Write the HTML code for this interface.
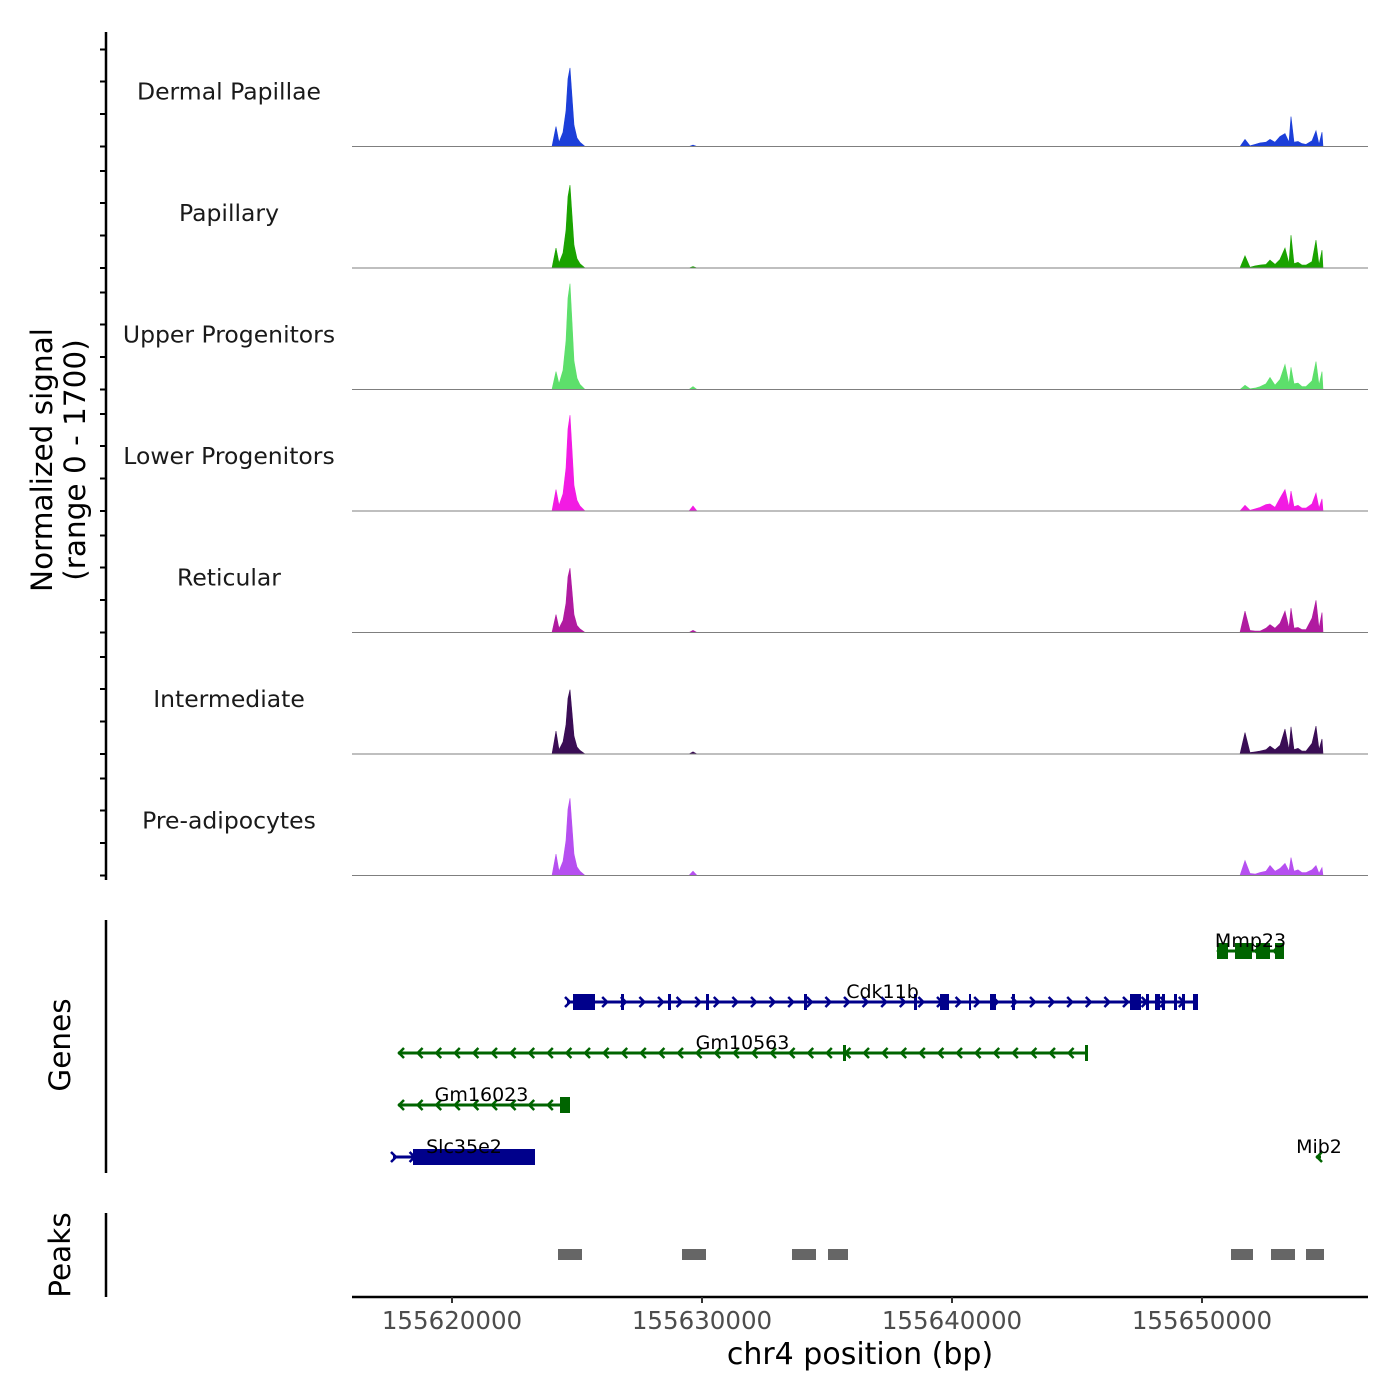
<!DOCTYPE html>
<html><head><meta charset="utf-8"><style>
html,body{margin:0;padding:0;background:#fff;}
svg{display:block;font-family:"DejaVu Sans","Liberation Sans",sans-serif;}
</style></head><body>
<svg id="chart" width="1400" height="1400" viewBox="0 0 1400 1400"></svg>
<script>
const regionStart = 155616000;
const regionEnd = 155656640;
const trackNames = ["Dermal Papillae","Papillary","Upper Progenitors","Lower Progenitors","Reticular","Intermediate","Pre-adipocytes"];
const trackColors = ["#1c3fd9","#1aa300","#5ddf6b","#f21be3","#b01aa0","#3a0d55","#b64ff0"];
const covOffsets = [0,8000,8160,8280,8440,8560,8640,8720,8800,8880,9000,9120,9320,13480,13640,13800,35520,35720,35920,36120,36320,36560,36720,36920,37120,37320,37480,37560,37680,37840,38000,38160,38400,38560,38680,38800,38840];
const covDP  = [0,0,280,60,200,500,950,1100,700,300,120,60,0,0,20,0,0,100,10,30,50,60,100,60,140,180,60,420,60,70,40,30,80,220,30,200,0];
const covPap = [0,0,280,70,210,530,1000,1160,740,320,130,60,0,0,20,0,0,170,10,30,40,50,110,50,120,280,60,460,60,80,40,40,90,390,40,250,0];
const covUp  = [0,0,250,80,270,680,1280,1480,950,400,160,70,0,0,40,0,0,60,10,20,40,80,170,60,140,350,80,310,80,90,40,40,120,390,60,250,0];
const covLow = [0,0,300,80,240,600,1150,1340,860,360,150,70,0,0,70,0,0,80,10,30,50,90,100,50,180,300,60,280,60,80,40,40,100,250,40,170,0];
const covRet = [0,0,250,60,170,410,780,900,580,250,100,50,0,0,30,0,0,300,30,20,20,60,110,60,130,300,60,340,60,70,40,40,200,450,60,280,0];
const covInt = [0,0,320,60,170,410,780,900,580,250,100,50,0,0,30,0,0,300,20,30,40,60,110,60,120,350,60,380,60,80,40,40,150,390,60,210,0];
const covPre = [0,0,300,60,200,490,930,1080,690,300,120,60,0,0,60,0,0,210,30,20,40,60,140,60,100,170,60,250,60,80,40,40,80,140,30,110,0];
const covSeries = [covDP,covPap,covUp,covLow,covRet,covInt,covPre];
const yMax = 1700;
const geneNames = ["Mmp23","Cdk11b","Gm10563","Gm16023","Slc35e2","Mib2"];
const geneStarts = [155650600,155624600,155617840,155617840,155617640,155654560];
const geneEnds   = [155653280,155649840,155645400,155624520,155623320,155654760];
const geneStrand = ["-","+","-","-","+","-"];
const geneExons = [
 [[155650600,155651040],[155651320,155652000],[155652160,155652720],[155652920,155653280]],
 [[155624840,155625720],[155626760,155626880],[155628640,155628760],[155630160,155630280],[155634080,155634200],[155638480,155638600],[155639520,155639880],[155640680,155640760],[155641520,155641760],[155642400,155642520],[155647120,155647560],[155647760,155647880],[155648120,155648320],[155648400,155648520],[155648880,155649000],[155649200,155649320],[155649640,155649840]],
 [[155635640,155635760],[155645320,155645440]],
 [[155624320,155624720]],
 [[155618440,155623320]],
 []
];
const peakStarts = [155624240,155629200,155633600,155635040,155651160,155652760,155654160];
const peakEnds   = [155625200,155630160,155634560,155635840,155652040,155653720,155654880];
const xTicks = [155620000,155630000,155640000,155650000];

const NS="http://www.w3.org/2000/svg";
const svg=document.getElementById('chart');
const X0=352,X1=1368;
function xs(bp){return X0+(bp-regionStart)/(regionEnd-regionStart)*(X1-X0);}
const trackTop=25, trackH=121.5;
function mk(tag,attrs,parent){const e=document.createElementNS(NS,tag);for(const k in attrs)e.setAttribute(k,attrs[k]);(parent||svg).appendChild(e);return e;}
function txt(s,attrs,parent){const e=mk('text',attrs,parent);e.textContent=s;return e;}

trackNames.forEach((nm,i)=>{
  const base=trackTop+trackH*(i+1);
  const g=mk('g',{});
  
  
  const ys=v=>base-v/yMax*trackH;
  let d='M'+xs(regionStart+covOffsets[0])+','+base;
  covOffsets.forEach((o,j)=>{d+=' L'+xs(regionStart+o).toFixed(1)+','+ys(covSeries[i][j]).toFixed(1);});
  d+=' L'+xs(regionStart+covOffsets[covOffsets.length-1]).toFixed(1)+','+base+' Z';
  const p=mk('path',{d:d,fill:trackColors[i],stroke:trackColors[i],'stroke-width':0.6},g);
  
  
  const bl=mk('line',{x1:X0,x2:X1,y1:base,y2:base,stroke:'#7f7f7f','stroke-width':1},g);
  
  
  const t=txt(nm,{x:229,y:base-47,'text-anchor':'middle','font-size':23.5,fill:'#1a1a1a'},g);
  
  
});
const ax=mk('g',{});


mk('line',{x1:106,x2:106,y1:32,y2:880,stroke:'#000','stroke-width':2.5},ax);
for(let i=0;i<7;i++){
  const base=trackTop+trackH*(i+1);
  [0,32.5,65,97].forEach(o=>{mk('line',{x1:100,x2:106,y1:base-o,y2:base-o,stroke:'#000','stroke-width':2},ax);});
}
const yt=mk('text',{transform:'translate(52,460) rotate(-90)','text-anchor':'middle','font-size':29.5,fill:'#000'});


const ts1=mk('tspan',{x:0,y:0},yt);ts1.textContent='Normalized signal';
const ts2=mk('tspan',{x:0,y:33},yt);ts2.textContent='(range 0 - 1700)';

const gg=mk('g',{});


mk('line',{x1:106,x2:106,y1:920,y2:1173,stroke:'#000','stroke-width':2.5},gg);
const gl=txt('Genes',{transform:'translate(70,1045) rotate(-90)','text-anchor':'middle','font-size':29.5},gg);


const geneY=[951,1002,1053,1105,1157,1157];
geneNames.forEach((nm,i)=>{
  const col=geneStrand[i]=='+'?'#00008b':'#006400';
  const g=mk('g',{},gg);
  
  
  const y=geneY[i],a=xs(geneStarts[i]),b=xs(geneEnds[i]);
  mk('line',{x1:a,x2:b,y1:y,y2:y,stroke:col,'stroke-width':3},g);
  for(let x=a+2;x<=b;x+=18.6){
    const dd=geneStrand[i]=='+'?`M${x-4},${y-5} L${x+1},${y} L${x-4},${y+5}`:`M${x+4},${y-5} L${x-1},${y} L${x+4},${y+5}`;
    mk('path',{d:dd,stroke:col,'stroke-width':2.5,fill:'none'},g);
  }
  geneExons[i].forEach(e=>{mk('rect',{x:xs(e[0]),y:y-8,width:Math.max(2,xs(e[1])-xs(e[0])),height:16,fill:col},g);});
  const lx=nm=='Mib2'?1319:(a+b)/2;
  txt(nm,{x:lx,y:y-4,'text-anchor':'middle','font-size':19,fill:'#000'},g);
});

const pg=mk('g',{});


mk('line',{x1:106,x2:106,y1:1213,y2:1297,stroke:'#000','stroke-width':2.5},pg);
const pl=txt('Peaks',{transform:'translate(70,1255) rotate(-90)','text-anchor':'middle','font-size':29.5},pg);


peakStarts.forEach((s,i)=>{
  const r=mk('rect',{x:xs(s),y:1249,width:xs(peakEnds[i])-xs(s),height:11,fill:'#666'},pg);
  
  
});

const xa=mk('g',{});


mk('line',{x1:X0,x2:X1,y1:1297,y2:1297,stroke:'#000','stroke-width':2.5},xa);
xTicks.forEach(t=>{
  const x=xs(t);
  mk('line',{x1:x,x2:x,y1:1297,y2:1303,stroke:'#333','stroke-width':2},xa);
  const l=txt(String(t),{x:x,y:1329,'text-anchor':'middle','font-size':24.5,fill:'#4d4d4d'},xa);
  
  
});
const xt=txt('chr4 position (bp)',{x:860,y:1364,'text-anchor':'middle','font-size':30,fill:'#000'},xa);


</script>
</body></html>
